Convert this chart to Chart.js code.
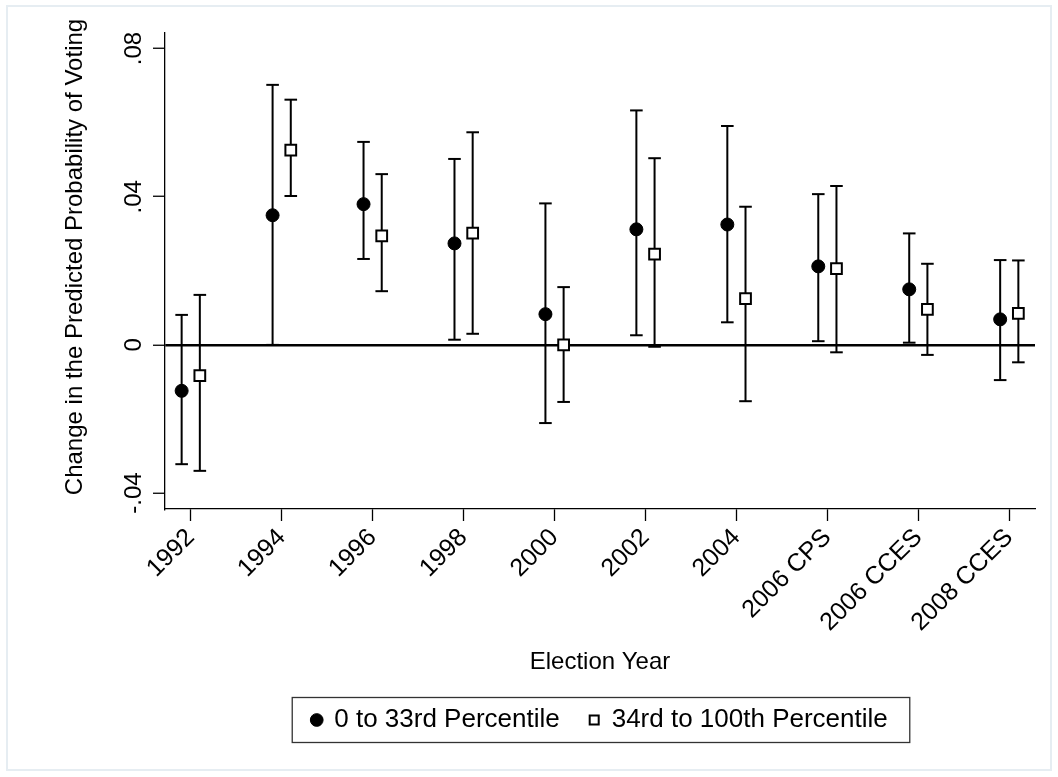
<!DOCTYPE html>
<html>
<head>
<meta charset="utf-8">
<script src="https://cdn.jsdelivr.net/npm/chart.js@4"></script>
<style>
  body { margin: 0; background: #fff; }
  #wrap { width: 1058px; height: 777px; }
</style>
</head>
<body>
<div id="wrap"><canvas id="voteChart" width="1058" height="777"></canvas></div>
<script>
// categories on the x axis
const categories = ['1992', '1994', '1996', '1998', '2000', '2002', '2004', '2006 CPS', '2006 CCES', '2008 CCES'];

// 0 to 33rd percentile: estimate and interval
const lowEst = [-0.0124, 0.0350, 0.0380, 0.0274, 0.0083, 0.0312, 0.0325, 0.0212, 0.0150, 0.0069];
const lowLo  = [-0.0322, 0.0000, 0.0232, 0.0014, -0.0211, 0.0026, 0.0061, 0.0010, 0.0006, -0.0095];
const lowHi  = [0.0081, 0.0702, 0.0548, 0.0502, 0.0382, 0.0633, 0.0591, 0.0407, 0.0301, 0.0229];

// 34rd to 100th percentile: estimate and interval
const highEst = [-0.0083, 0.0526, 0.0294, 0.0302, 0.0000, 0.0245, 0.0125, 0.0206, 0.0096, 0.0085];
const highLo  = [-0.0340, 0.0402, 0.0145, 0.0030, -0.0154, -0.0005, -0.0152, -0.0020, -0.0027, -0.0047];
const highHi  = [0.0135, 0.0662, 0.0461, 0.0574, 0.0156, 0.0504, 0.0373, 0.0429, 0.0219, 0.0228];

// y axis ticks
const yTicks = [-0.04, 0, 0.04, 0.08];
const yTickLabels = ['-.04', '0', '.04', '.08'];

const yTitle = 'Change in the Predicted Probability of Voting';
const FONT = '"Liberation Sans", Arial, Helvetica, sans-serif';
const shift = 0.1;

function markers(est, dx) {
    return est.map((v, i) => ({ x: i + 1 + dx, y: v }));
}

// vertical segments, split by null points
function whiskers(lo, hi, dx) {
    const pts = [];
    lo.forEach((v, i) => {
        pts.push({ x: i + 1 + dx, y: v });
        pts.push({ x: i + 1 + dx, y: hi[i] });
        pts.push({ x: i + 1 + dx, y: null });
    });
    return pts;
}

// white page, light frame, y title, box around legend
const framePlugin = {
    id: 'framePlugin',
    beforeDraw(chart) {
        const ctx = chart.ctx;
        ctx.save();
        ctx.fillStyle = '#fff';
        ctx.fillRect(0, 0, chart.width, chart.height);
        ctx.strokeStyle = '#e6edf2';
        ctx.lineWidth = 2;
        ctx.strokeRect(7, 6, 1044, 764);
        ctx.restore();
    },
    afterDraw(chart) {
        const ctx = chart.ctx;
        ctx.save();
        ctx.translate(75, 257);
        ctx.rotate(-Math.PI / 2);
        ctx.fillStyle = '#000';
        ctx.font = '24px ' + FONT;
        ctx.textAlign = 'center';
        ctx.textBaseline = 'middle';
        ctx.fillText(yTitle, 0, 0);
        ctx.restore();

        const boxes = chart.legend.legendHitBoxes;
        if (!boxes || !boxes.length) return;
        const left = Math.min(...boxes.map(b => b.left)) - 20;
        const right = Math.max(...boxes.map(b => b.left + b.width)) + 22;
        const mid = boxes[0].top + boxes[0].height / 2;
        ctx.save();
        ctx.strokeStyle = '#333';
        ctx.lineWidth = 1.3;
        ctx.strokeRect(left, mid - 22.5, right - left, 45);
        ctx.restore();
    }
};

const canvas = document.getElementById('voteChart');

new Chart(canvas, {
    type: 'line',
    data: {
        datasets: [
            {
                label: '0 to 33rd Percentile',
                data: markers(lowEst, -shift),
                showLine: false,
                pointStyle: 'circle',
                pointRadius: 6.5,
                pointBackgroundColor: '#000',
                pointBorderColor: '#000',
                pointBorderWidth: 1,
                backgroundColor: '#000',
                borderColor: '#000',
                borderWidth: 1
            },
            {
                label: '34rd to 100th Percentile',
                data: markers(highEst, shift),
                showLine: false,
                pointStyle: 'rect',
                pointRadius: 7.6,
                pointBackgroundColor: '#fff',
                pointBorderColor: '#000',
                pointBorderWidth: 2,
                backgroundColor: '#fff',
                borderColor: '#000',
                borderWidth: 1.5
            },
            {
                label: 'ci low',
                data: whiskers(lowLo, lowHi, -shift),
                borderColor: '#000',
                borderWidth: 2,
                spanGaps: false,
                pointStyle: 'line',
                pointRadius: 6.3,
                pointBorderColor: '#000',
                pointBorderWidth: 2
            },
            {
                label: 'ci high',
                data: whiskers(highLo, highHi, shift),
                borderColor: '#000',
                borderWidth: 2,
                spanGaps: false,
                pointStyle: 'line',
                pointRadius: 6.3,
                pointBorderColor: '#000',
                pointBorderWidth: 2
            }
        ]
    },
    options: {
        responsive: false,
        animation: false,
        events: [],
        layout: {
            padding: { top: 33, right: 23, left: 0, bottom: 34 }
        },
        plugins: {
            tooltip: { enabled: false },
            legend: {
                position: 'bottom',
                fullSize: false,
                labels: {
                    usePointStyle: true,
                    boxWidth: 9,
                    boxHeight: 9,
                    padding: 30,
                    color: '#000',
                    font: { family: FONT, size: 26 },
                    filter: item => item.datasetIndex < 2
                }
            }
        },
        scales: {
            x: {
                type: 'linear',
                min: 0.717,
                max: 10.283,
                afterBuildTicks: scale => {
                    scale.ticks = categories.map((c, i) => ({ value: i + 1 }));
                },
                afterFit: scale => { scale.height = 168; },
                ticks: {
                    autoSkip: false,
                    minRotation: 45,
                    maxRotation: 45,
                    padding: 2,
                    color: '#000',
                    font: { family: FONT, size: 25 },
                    callback: v => categories[Math.round(v) - 1]
                },
                grid: {
                    drawOnChartArea: false,
                    tickLength: 12,
                    tickColor: '#000',
                    tickWidth: 1.3
                },
                border: { color: '#000', width: 1.3 },
                title: {
                    display: true,
                    text: 'Election Year',
                    color: '#000',
                    font: { family: FONT, size: 24 },
                    padding: { top: 0, bottom: 0 }
                }
            },
            y: {
                min: -0.0443,
                max: 0.0842,
                afterBuildTicks: scale => {
                    scale.ticks = yTicks.map(v => ({ value: v }));
                },
                afterFit: scale => { scale.width = 165; },
                ticks: {
                    minRotation: 90,
                    maxRotation: 90,
                    crossAlign: 'center',
                    padding: -2,
                    color: '#000',
                    font: { family: FONT, size: 24 },
                    callback: v => yTickLabels[yTicks.indexOf(v)]
                },
                grid: {
                    color: c => (c.tick && c.tick.value === 0) ? '#000' : 'rgba(0,0,0,0)',
                    lineWidth: 2.5,
                    tickLength: 12,
                    tickColor: '#000',
                    tickWidth: 1.3
                },
                border: { color: '#000', width: 1.3 }
            }
        }
    },
    plugins: [framePlugin]
});
</script>
</body>
</html>
